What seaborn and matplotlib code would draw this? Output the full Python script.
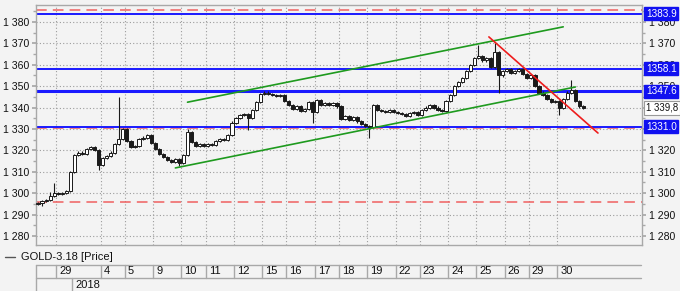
import numpy as np
import pandas as pd
import matplotlib
matplotlib.use("Agg")
import matplotlib.pyplot as plt
import matplotlib.transforms as mtransforms
from matplotlib.lines import Line2D
from matplotlib.ticker import FuncFormatter, MultipleLocator, FixedLocator
import seaborn as sns

# ---------------- data ----------------
first_open = 1295.0
closes = [
    1295.5, 1296.5, 1297.0, 1298.5, 1300.0, 1299.5, 1300.0, 1301.0, 1310.0, 1318.0,
    1319.0, 1318.5, 1320.5, 1321.5, 1320.0, 1313.0, 1316.5, 1317.5, 1319.0, 1323.0,
    1325.5, 1330.0, 1324.5, 1321.5, 1322.0, 1325.5, 1326.0, 1327.0, 1323.5, 1320.5,
    1318.5, 1317.0, 1315.5, 1314.5, 1316.0, 1314.0, 1318.0, 1328.5, 1324.0, 1322.0,
    1323.0, 1322.0, 1323.0, 1322.5, 1324.5, 1325.5, 1325.0, 1327.0, 1333.0, 1335.0,
    1336.5, 1337.0, 1335.0, 1339.0, 1342.5, 1346.5, 1347.0, 1346.5, 1346.0, 1345.5,
    1346.0, 1343.0, 1341.0, 1339.5, 1340.5, 1338.5, 1339.5, 1342.5, 1338.0, 1343.5,
    1341.0, 1342.0, 1341.0, 1342.0, 1340.5, 1334.5, 1336.0, 1334.0, 1335.5, 1333.5,
    1332.5, 1331.5, 1331.0, 1341.0, 1339.0, 1338.5, 1338.0, 1339.0, 1338.0, 1337.5,
    1337.0, 1336.0, 1337.5, 1338.0, 1336.5, 1339.0, 1340.0, 1341.0, 1340.0, 1339.0,
    1338.5, 1343.0, 1346.0, 1350.0, 1352.0, 1354.0, 1357.0, 1360.0, 1363.0, 1364.0,
    1362.0, 1363.0, 1359.0, 1366.0, 1355.0, 1357.0, 1358.0, 1356.0, 1357.0, 1358.0,
    1355.5, 1354.0, 1355.0, 1350.0, 1347.0, 1346.0, 1344.0, 1342.5, 1343.0, 1340.0,
    1344.0, 1347.0, 1348.0, 1343.0, 1340.5, 1339.8,
]
spike_high = {3: 1300.5, 4: 1304.7, 20: 1345.0, 37: 1330.0, 109: 1369.0, 113: 1370.0, 132: 1353.0}
spike_low = {1: 1294.0, 15: 1311.0, 35: 1312.5, 52: 1329.5, 68: 1333.0, 82: 1326.0,
             114: 1347.0, 129: 1336.5}

day_labels = ["29", "4", "5", "9", "10", "11", "12", "15", "16", "17", "18", "19",
              "22", "23", "24", "25", "26", "29", "30"]
day_start_idx = [5, 16, 22, 29, 36, 42, 49, 56, 62, 69, 75, 82, 89, 95, 102, 109, 116, 122, 129]
year_label = "2018"
year_start_idx = 9

blue_levels = [1383.9, 1358.1, 1331.0]
blue_thick_level = 1347.6
red_levels = [1385.6, 1330.4, 1296.0]
box_levels = [1383.9, 1358.1, 1347.6, 1331.0]
last_price = 1339.8

channel_upper_x = [37, 130]
channel_upper_y = [1342.5, 1377.7]
channel_lower_x = [34, 133]
channel_lower_y = [1311.8, 1349.6]
down_trend_x = [111.6, 138.6]
down_trend_y = [1373.0, 1328.1]

legend_label = "GOLD-3.18 [Price]"

# ---------------- build table ----------------
n = len(closes)
opens = [first_open] + closes[:-1]
df = pd.DataFrame({"i": np.arange(n), "open": opens, "close": closes})
df["high"] = [spike_high.get(i, max(o, c) + 0.5) for i, o, c in zip(df.i, df.open, df.close)]
df["low"] = [spike_low.get(i, min(o, c) - 0.5) for i, o, c in zip(df.i, df.open, df.close)]
df["up"] = df.close >= df.open

trend_df = pd.concat([
    pd.DataFrame({"x": channel_upper_x, "y": channel_upper_y, "line": "cu"}),
    pd.DataFrame({"x": channel_lower_x, "y": channel_lower_y, "line": "cl"}),
    pd.DataFrame({"x": down_trend_x, "y": down_trend_y, "line": "dt"}),
])

# ---------------- style ----------------
sns.set_theme(style="white")
plt.rcParams["font.family"] = ["Liberation Sans", "DejaVu Sans"]
BG = "#f3f3f3"
GRID = "#9c9c9c"
FRAME = "#a8a8a8"
BLUE = "#1a1aff"
RED = "#f06060"
GREEN = "#1e9a1e"
FS = 7.6

fig = plt.figure(figsize=(6.8, 2.91), dpi=100, facecolor=BG)
W, H = 680, 291
L, R, T, B = 36, 642, 5, 245
ax = fig.add_axes([L / W, 1 - B / H, (R - L) / W, (B - T) / H])
ax.set_facecolor(BG)
ax.set_xlim(-0.5, 149.5)
ax.set_ylim(1275.8, 1387.9)

# grid
ax.yaxis.set_major_locator(MultipleLocator(10))
ax.yaxis.set_minor_locator(MultipleLocator(5))
ax.xaxis.set_major_locator(FixedLocator([d - 0.5 for d in day_start_idx]))
ax.grid(True, which="major", color=GRID, lw=0.8, ls=(0, (1, 2)))
ax.tick_params(axis="x", length=0, labelbottom=False)
fmt = FuncFormatter(lambda v, p: f"{int(v):,}".replace(",", " "))
ax.yaxis.set_major_formatter(fmt)
ax.tick_params(axis="y", which="major", direction="out", length=3, color=FRAME,
               labelsize=FS, pad=2, labelcolor="#111")
ax.tick_params(axis="y", which="minor", direction="out", length=2, color=FRAME)
for s in ax.spines.values():
    s.set_color(FRAME)
    s.set_linewidth(1.0)

ax2 = ax.twinx()
ax2.set_ylim(ax.get_ylim())
ax2.yaxis.set_major_locator(MultipleLocator(10))
ax2.yaxis.set_minor_locator(MultipleLocator(5))
ax2.yaxis.set_major_formatter(fmt)
ax2.tick_params(axis="y", which="major", direction="out", length=3, color=FRAME,
                labelsize=FS, pad=2, labelcolor="#111")
ax2.tick_params(axis="y", which="minor", direction="out", length=2, color=FRAME)
for s in ax2.spines.values():
    s.set_visible(False)
ax2.grid(False)

# horizontal levels
for lv in red_levels:
    ax.axhline(lv, color=RED, lw=1.1, ls=(0, (7, 4)), zorder=2)
for lv in blue_levels:
    ax.axhline(lv, color=BLUE, lw=1.4, zorder=2.1)
ax.axhline(blue_thick_level, color=BLUE, lw=2.2, zorder=2.1)

# candles
ax.vlines(df.i, df.low, df.high, color="#1a1a1a", lw=0.8, zorder=3)
body = (df.close - df.open).abs().clip(lower=0.25)
bottom = df[["open", "close"]].min(axis=1)
ax.bar(df.i[df.up], body[df.up], bottom=bottom[df.up], width=0.78,
       color="white", edgecolor="#1a1a1a", lw=0.7, zorder=4)
ax.bar(df.i[~df.up], body[~df.up], bottom=bottom[~df.up], width=0.78,
       color="#1a1a1a", edgecolor="#1a1a1a", lw=0.7, zorder=4)

# trend lines
sns.lineplot(data=trend_df, x="x", y="y", hue="line", units="line", estimator=None,
             palette={"cu": GREEN, "cl": GREEN, "dt": "#ee1c1c"}, lw=1.2,
             legend=False, ax=ax, zorder=5)
ax.set_xlabel("")
ax.set_ylabel("")
ax.set_xlim(-0.5, 149.5)

# right-side value boxes
tr_box = mtransforms.blended_transform_factory(fig.transFigure, ax.transData)
for lv in box_levels:
    ax2.text(646 / W, lv, f"{lv:.1f}", transform=tr_box, ha="left", va="center",
             fontsize=7.2, color="white", zorder=10, clip_on=False,
             bbox=dict(boxstyle="square,pad=0.16", fc="#1010f0", ec="#1010f0"))
ax2.text(646 / W, last_price, f"{last_price:,.1f}".replace(",", " ").replace(".", ","),
         transform=tr_box, ha="left", va="center", fontsize=6.9, color="#111",
         zorder=10, clip_on=False,
         bbox=dict(boxstyle="square,pad=0.16", fc="white", ec="#9a9a9a", lw=0.8))

# date rows
tr_x = mtransforms.blended_transform_factory(ax.transData, fig.transFigure)
y1, y2, y3 = 1 - 265 / H, 1 - 278 / H, 1 - 291 / H
xr = 149.3
for yy in (y1, y2):
    fig.add_artist(Line2D([-0.5, xr], [yy, yy], transform=tr_x, color=FRAME, lw=1.0))
fig.add_artist(Line2D([-0.5, -0.5], [y1, y3], transform=tr_x, color=FRAME, lw=1.0))
for d, lab in zip(day_start_idx, day_labels):
    fig.add_artist(Line2D([d - 0.5, d - 0.5], [y1, y2], transform=tr_x, color=FRAME, lw=1.0))
    fig.text(d - 0.5, (y1 + y2) / 2,
             lab, transform=mtransforms.offset_copy(tr_x, fig=fig, x=3, y=0, units="dots"),
             ha="left", va="center", fontsize=FS + 0.4, color="#111")
fig.add_artist(Line2D([year_start_idx - 0.5] * 2, [y2, y3], transform=tr_x, color=FRAME, lw=1.0))
fig.text(year_start_idx - 0.5, (y2 + y3) / 2, year_label,
         transform=mtransforms.offset_copy(tr_x, fig=fig, x=3, y=0, units="dots"),
         ha="left", va="center", fontsize=FS + 0.4, color="#111")

# legend
fig.add_artist(Line2D([5 / W, 15 / W], [1 - 257 / H] * 2, color="#555", lw=1.0))
fig.text(21 / W, 1 - 257 / H, legend_label, ha="left", va="center", fontsize=FS + 0.4, color="#111")

fig.savefig("out.png", dpi=100, facecolor=BG)
